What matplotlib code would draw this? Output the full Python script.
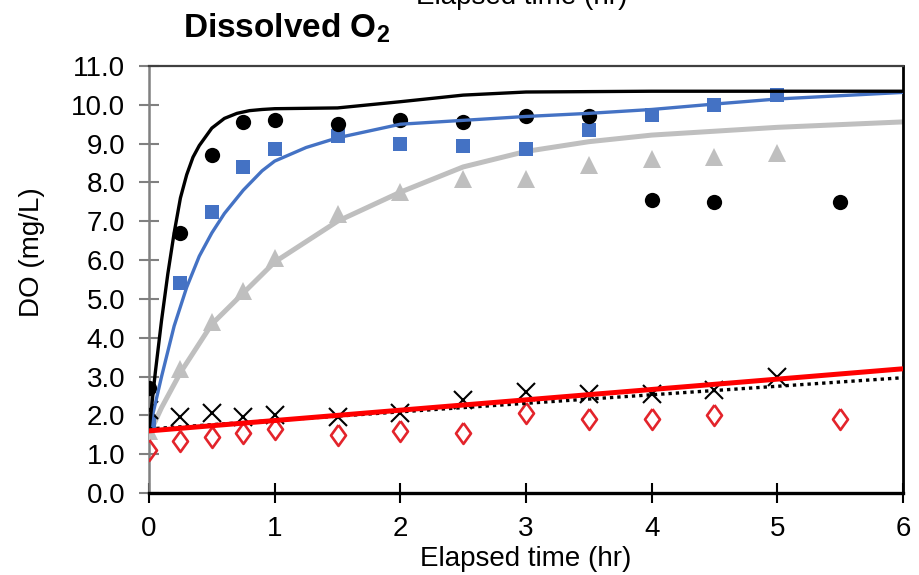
import matplotlib
matplotlib.use("Agg")
import matplotlib.pyplot as plt
from matplotlib.ticker import FormatStrFormatter

plt.rcParams['font.family'] = ['Liberation Sans', 'DejaVu Sans']
plt.rcParams['mathtext.fontset'] = 'custom'
plt.rcParams['mathtext.rm'] = 'Liberation Sans'
plt.rcParams['mathtext.bf'] = 'Liberation Sans:bold'

# measured points
t_circ = [0, 0.25, 0.5, 0.75, 1, 1.5, 2, 2.5, 3, 3.5, 4, 4.5, 5.5]
do_circ = [2.7, 6.7, 8.7, 9.55, 9.6, 9.5, 9.6, 9.55, 9.7, 9.7, 7.55, 7.5, 7.5]

t_sq = [0, 0.25, 0.5, 0.75, 1, 1.5, 2, 2.5, 3, 3.5, 4, 4.5, 5]
do_sq = [1.8, 5.4, 7.25, 8.4, 8.85, 9.2, 9.0, 8.95, 8.85, 9.35, 9.75, 10.0, 10.25]

t_tri = [0, 0.25, 0.5, 0.75, 1, 1.5, 2, 2.5, 3, 3.5, 4, 4.5, 5]
do_tri = [1.6, 3.2, 4.4, 5.2, 6.05, 7.2, 7.75, 8.1, 8.1, 8.45, 8.6, 8.65, 8.75]

t_x = [0, 0.25, 0.5, 0.75, 1, 1.5, 2, 2.5, 3, 3.5, 4, 4.5, 5]
do_x = [2.15, 1.95, 2.05, 1.95, 2.0, 1.95, 2.05, 2.4, 2.6, 2.55, 2.55, 2.65, 3.0]

t_dia = [0, 0.25, 0.5, 0.75, 1, 1.5, 2, 2.5, 3, 3.5, 4, 4.5, 5.5]
do_dia = [1.1, 1.35, 1.45, 1.55, 1.65, 1.5, 1.6, 1.55, 2.05, 1.9, 1.9, 2.0, 1.9]

# fitted curves
t_fit_k = [0, 0.05, 0.1, 0.15, 0.2, 0.25, 0.3, 0.35, 0.4, 0.5, 0.6, 0.7, 0.8, 0.9, 1.0,
           1.5, 2.0, 2.5, 3.0, 4.0, 5.0, 6.0]
do_fit_k = [1.6, 3.1, 4.45, 5.65, 6.7, 7.6, 8.2, 8.65, 8.95, 9.4, 9.65, 9.78, 9.85, 9.88, 9.9,
            9.92, 10.08, 10.25, 10.33, 10.35, 10.35, 10.35]

t_fit_b = [0, 0.1, 0.2, 0.3, 0.4, 0.5, 0.6, 0.75, 0.9, 1.0, 1.25, 1.5, 2.0, 2.5, 3.0, 3.5,
           4.0, 4.5, 5.0, 6.0]
do_fit_b = [1.6, 3.0, 4.3, 5.3, 6.1, 6.7, 7.2, 7.8, 8.3, 8.55, 8.9, 9.15, 9.5, 9.6, 9.7, 9.78,
            9.88, 10.02, 10.15, 10.32]

t_fit_g = [0, 0.1, 0.25, 0.5, 0.75, 1.0, 1.5, 2.0, 2.5, 3.0, 3.5, 4.0, 5.0, 6.0]
do_fit_g = [1.5, 2.2, 3.1, 4.35, 5.15, 5.95, 7.0, 7.75, 8.4, 8.8, 9.05, 9.22, 9.42, 9.56]

t_lin = [0, 6]
do_lin_red = [1.6, 3.2]
do_lin_dot = [1.65, 2.97]

fig = plt.figure(figsize=(9.2, 5.75), dpi=100)
ax = fig.add_axes([149 / 920, 1 - 493 / 575, (903 - 149) / 920, (493 - 66) / 575])

diamond = [(0, 0.5), (0.36, 0), (0, -0.5), (-0.36, 0), (0, 0.5)]

ax.plot(t_fit_g, do_fit_g, color='#BFBFBF', lw=3.6, zorder=2)
ax.plot(t_tri, do_tri, '^', color='#BFBFBF', ms=13.5, mew=0, zorder=3)
ax.plot(t_sq, do_sq, 's', color='#4472C4', ms=10.5, mew=0, zorder=3)
ax.plot(t_fit_b, do_fit_b, color='#4472C4', lw=2.4, zorder=4)
ax.plot(t_circ, do_circ, 'o', color='black', ms=11, mew=0, zorder=3)
ax.plot(t_fit_k, do_fit_k, color='black', lw=2.4, zorder=4)
ax.plot(t_x, do_x, 'x', color='black', ms=13, mew=1.5, zorder=3)
ax.plot(t_dia, do_dia, marker=diamond, ls='none', mfc='none', mec='#E3242B', ms=15, mew=1.9, zorder=3)
ax.plot(t_lin, do_lin_dot, color='black', lw=2.4, ls=(0, (1, 1.2)), zorder=4)
ax.plot(t_lin, do_lin_red, color='#FF0000', lw=3.6, zorder=5)

ax.set_xlim(0, 6)
ax.set_ylim(0, 11)
ax.set_xticks(range(0, 7))
ax.set_yticks(range(0, 12))
ax.yaxis.set_major_formatter(FormatStrFormatter('%.1f'))

ax.tick_params(axis='x', direction='inout', length=15, width=1.5, color='black',
               labelsize=20, pad=9)
ax.tick_params(axis='y', direction='inout', length=14, width=1.5, color='#808080',
               labelsize=20, pad=10)

ax.spines['left'].set_color('#808080')
ax.spines['left'].set_linewidth(1.8)
ax.spines['bottom'].set_color('black')
ax.spines['bottom'].set_linewidth(2.4)
ax.spines['right'].set_color('black')
ax.spines['right'].set_linewidth(2.0)
ax.spines['top'].set_color('#404040')
ax.spines['top'].set_linewidth(1.6)

ax.set_xlabel('Elapsed time (hr)', fontsize=20, labelpad=3)
fig.text(32 / 920, 1 - 252 / 575, 'DO (mg/L)', rotation=90, fontsize=20,
         ha='center', va='center')

# cropped secondary axis label at the very top
fig.text(522 / 920, 1 - 4 / 575, 'Elapsed time (hr)', fontsize=20, ha='center', va='baseline')

fig.text(183 / 920, 1 - 37 / 575, r'Dissolved O$_\mathbf{2}$', fontsize=24,
         fontweight='bold', ha='left', va='baseline')

fig.savefig('out.png', dpi=100)
